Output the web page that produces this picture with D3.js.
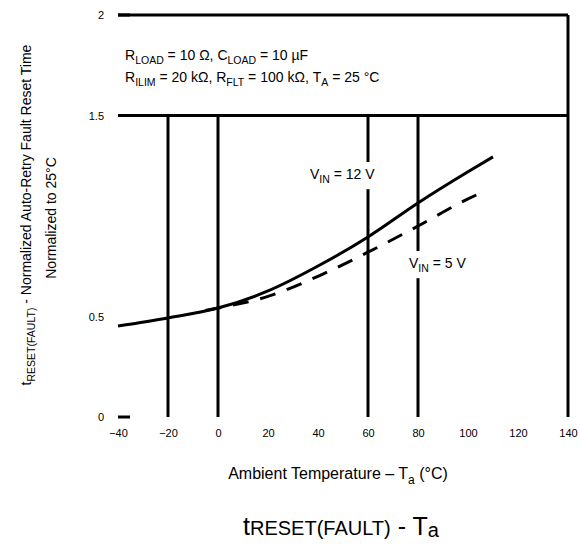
<!DOCTYPE html>
<html>
<head>
<meta charset="utf-8">
<script src="https://cdn.jsdelivr.net/npm/d3@7"></script>
<style>
  body { margin: 0; background: #fff; }
  svg { display: block; font-family: "Liberation Sans", Arial, sans-serif; }
</style>
</head>
<body>
<div id="chart"></div>
<script>
"use strict"

// data
const xTicks = [-40, -20, 0, 20, 40, 60, 80, 100, 120, 140];
const yTicks = [0, 0.5, 1.5, 2];
const yTickMarks = [0, 2];
const xGrid = [-20, 0, 60, 80];
const yGrid = [1.5];

const tempSolid = [-40, -20, 0, 20, 40, 60, 80, 100, 110];
const resetSolid = [0.453, 0.493, 0.542, 0.627, 0.751, 0.896, 1.065, 1.22, 1.294];

const tempDashed = [-5, 0, 20, 40, 60, 80, 100, 105];
const resetDashed = [0.53, 0.542, 0.6, 0.70, 0.82, 0.95, 1.085, 1.114];

const conditions = [
  "R_LOAD = 10 Ω, C_LOAD = 10 µF",
  "R_ILIM = 20 kΩ, R_FLT = 100 kΩ, T_A = 25 °C"
];

let W = 580, H = 548;

let svg = d3.select("#chart")
  .append("svg")
  .attr("width", W)
  .attr("height", H);

let x = d3.scaleLinear().domain([-40, 140]).range([118, 568]);
let y = d3.scaleLinear().domain([0, 2]).range([417, 15]);

// frame pieces that survive in the picture
svg.append("line")
  .attr("x1", x(-40)).attr("x2", x(140))
  .attr("y1", y(2)).attr("y2", y(2))
  .style("stroke", "#000").style("stroke-width", 3);
svg.append("line")
  .attr("x1", x(140)).attr("x2", x(140))
  .attr("y1", y(2)).attr("y2", y(0))
  .style("stroke", "#000").style("stroke-width", 3);

svg.selectAll(".hgrid").data(yGrid).enter()
  .append("line")
  .attr("class", "hgrid")
  .attr("x1", x(-40)).attr("x2", x(140))
  .attr("y1", d => y(d)).attr("y2", d => y(d))
  .style("stroke", "#000").style("stroke-width", 3);

svg.selectAll(".vgrid").data(xGrid).enter()
  .append("line")
  .attr("class", "vgrid")
  .attr("x1", d => x(d)).attr("x2", d => x(d))
  .attr("y1", y(1.5)).attr("y2", y(0))
  .style("stroke", "#000").style("stroke-width", 3);

// axes
let gx = svg.append("g")
  .attr("transform", "translate(0," + (y(0) + 9) + ")")
  .call(d3.axisBottom(x).tickValues(xTicks).tickSize(0).tickFormat(d3.format("d")));
gx.select(".domain").remove();
gx.selectAll("text").style("font-size", "11px").style("fill", "#000");

let gy = svg.append("g")
  .attr("transform", "translate(" + x(-40) + ",0)")
  .call(d3.axisLeft(y).tickValues(yTicks).tickSize(0).tickPadding(14)
    .tickFormat(d => d === 0 || d === 2 ? d3.format("d")(d) : d3.format(".1f")(d)));
gy.select(".domain").remove();
gy.selectAll("text").style("font-size", "11px").style("fill", "#000");

svg.selectAll(".ytick").data(yTickMarks).enter()
  .append("line")
  .attr("class", "ytick")
  .attr("x1", x(-40)).attr("x2", x(-40) + 12)
  .attr("y1", d => y(d)).attr("y2", d => y(d))
  .style("stroke", "#000").style("stroke-width", 3);

// curves
let line = d3.line()
  .x(d => x(d[0]))
  .y(d => y(d[1]))
  .curve(d3.curveMonotoneX);

svg.append("path")
  .datum(d3.zip(tempSolid, resetSolid))
  .attr("d", line)
  .style("fill", "none")
  .style("stroke", "#000")
  .style("stroke-width", 3);

svg.append("path")
  .datum(d3.zip(tempDashed, resetDashed))
  .attr("d", line)
  .style("fill", "none")
  .style("stroke", "#000")
  .style("stroke-width", 3)
  .style("stroke-dasharray", "16,12");

// text with subscripts written as "A_SUB"
function subText(sel, str, size) {
  let parts = str.split(/(\w+_[\w()]+)/);
  let shift = 0;
  parts.forEach(function(p) {
    if (!p.length) return;
    if (p.indexOf("_") > 0) {
      let k = p.split("_");
      sel.append("tspan").attr("dy", -shift).text(k[0]);
      sel.append("tspan").attr("dy", size * 0.3).style("font-size", (size * 0.75) + "px").text(k[1]);
      shift = size * 0.3;
    } else {
      sel.append("tspan").attr("dy", -shift).text(p);
      shift = 0;
    }
  });
}

// label with a white box behind it, so the grid breaks round it
function boxedLabel(str, px, py) {
  let g = svg.append("g");
  let bg = g.append("rect").style("fill", "#fff");
  let t = g.append("text").attr("x", px).attr("y", py).style("font-size", "14px");
  subText(t, str, 14);
  let bb = t.node().getBBox();
  bg.attr("x", bb.x - 3).attr("y", bb.y - 4)
    .attr("width", bb.width + 6).attr("height", bb.height + 8);
}

conditions.forEach(function(c, i) {
  let t = svg.append("text")
    .attr("x", 125)
    .attr("y", 60 + i * 22)
    .style("font-size", "14px");
  subText(t, c, 14);
});

boxedLabel("V_IN = 12 V", 310, 179);
boxedLabel("V_IN = 5 V", 409, 268);

// axis titles
let xt = svg.append("text")
  .attr("x", 338).attr("y", 479)
  .attr("text-anchor", "middle")
  .style("font-size", "16px");
subText(xt, "Ambient Temperature – T_a (°C)", 16);

let yt = svg.append("text")
  .attr("transform", "translate(31,215) rotate(-90)")
  .attr("text-anchor", "middle")
  .style("font-size", "14px");
subText(yt, "t_RESET(FAULT) - Normalized Auto-Retry Fault Reset Time", 14);
svg.append("text")
  .attr("transform", "translate(56,218) rotate(-90)")
  .attr("text-anchor", "middle")
  .style("font-size", "14px")
  .text("Normalized to 25°C");

// caption
let cap = svg.append("text")
  .attr("x", 243).attr("y", 535)
  .style("font-size", "25px")
  .style("fill", "#000");
cap.append("tspan").text("t");
cap.append("tspan").style("font-size", "20px").text("RESET(FAULT)");
cap.append("tspan").text(" - T");
cap.append("tspan").attr("dy", 2).style("font-size", "20px").text("a");
</script>
</body>
</html>
